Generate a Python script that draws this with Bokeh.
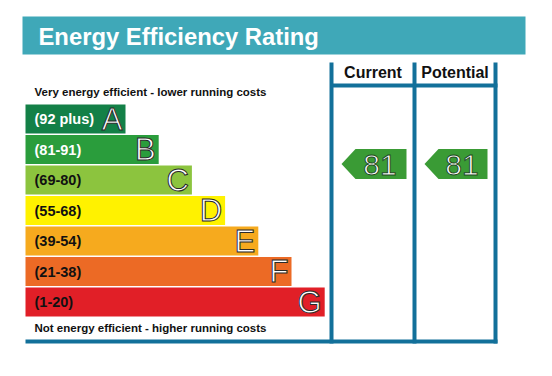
from bokeh.plotting import figure
from bokeh.models import Range1d, ColumnDataSource
from bokeh.core.properties import value
from bokeh.embed import file_html
from bokeh.resources import INLINE

# ---- data ----
bands = ["A", "B", "C", "D", "E", "F", "G"]
range_labels = ["(92 plus)", "(81-91)", "(69-80)", "(55-68)", "(39-54)", "(21-38)", "(1-20)"]
band_min = [92, 81, 69, 55, 39, 21, 1]
band_max = [100, 91, 80, 68, 54, 38, 20]
band_colors = ["#138047", "#2a9d3c", "#8cc43e", "#fff200", "#f6aa1e", "#ec6a25", "#e11f27"]
label_colors = ["white", "white", "#111111", "#111111", "#111111", "#111111", "#111111"]
title = "Energy Efficiency Rating"
top_note = "Very energy efficient - lower running costs"
bottom_note = "Not energy efficient - higher running costs"
columns = ["Current", "Potential"]
ratings = [81, 81]

# ---- layout (pixel space) ----
W, H = 552, 376
FONT = "Liberation Sans"
row_top0, row_pitch, row_h = 104.0, 30.5, 29.0
bar_left, bar_w0, bar_step = 25.0, 100.0, 33.2
col_lines = [331, 414, 495]

p = figure(width=W, height=H, x_range=Range1d(0, W), y_range=Range1d(H, 0),
           min_border=0, toolbar_location=None, output_backend="svg",
           x_axis_type=None, y_axis_type=None)
p.grid.visible = False
p.outline_line_color = None
p.background_fill_color = "white"
p.border_fill_color = "white"

# title banner
p.quad(left=[22], right=[525], top=[16], bottom=[54], fill_color="#3fa8b8", line_color=None)
p.text(x=[38], y=[36], text=[title], text_color="white", text_font=value(FONT),
       text_font_style="bold", text_font_size="23.8px", text_baseline="middle")

# bars
tops = [row_top0 + row_pitch * i for i in range(len(bands))]
bottoms = [t + row_h for t in tops]
rights = [bar_left + bar_w0 + bar_step * i for i in range(len(bands))]
mids = [(t + b) / 2 for t, b in zip(tops, bottoms)]
src = ColumnDataSource(dict(left=[bar_left] * len(bands), right=rights, top=tops, bottom=bottoms,
                            color=band_colors, mid=mids, rng=range_labels, lab=bands,
                            lcol=label_colors, lx=[34] * len(bands),
                            letx=[r - 3 for r in rights]))
p.quad(left="left", right="right", top="top", bottom="bottom", fill_color="color",
       line_color=None, source=src)
p.text(x="lx", y="mid", text="rng", text_color="lcol", text_font=value(FONT),
       text_font_style="bold", text_font_size="14.5px", text_baseline="middle", source=src)
p.text(x="letx", y="mid", text="lab", text_color="white", text_outline_color="#2a2a2a",
       text_font=value(FONT), text_font_size="31px", text_align="right",
       text_baseline="middle", source=src)

# notes
p.text(x=[34], y=[91], text=[top_note], text_color="#111111", text_font=value(FONT),
       text_font_style="bold", text_font_size="11.5px", text_baseline="middle")
p.text(x=[34], y=[327], text=[bottom_note], text_color="#111111", text_font=value(FONT),
       text_font_style="bold", text_font_size="11.5px", text_baseline="middle")

# column frame
line_col = "#12709a"
p.segment(x0=col_lines, x1=col_lines, y0=[62] * 3, y1=[343] * 3, line_color=line_col, line_width=4)
p.segment(x0=[col_lines[0]], x1=[col_lines[-1] + 2], y0=[85], y1=[85], line_color=line_col, line_width=4)
p.segment(x0=[25], x1=[col_lines[-1] + 2], y0=[341], y1=[341], line_color=line_col, line_width=4)

col_centers = [(col_lines[i] + col_lines[i + 1]) / 2 for i in range(2)]
p.text(x=col_centers, y=[72, 72], text=columns, text_color="#111111", text_font=value(FONT),
       text_font_style="bold", text_font_size="16px", text_align="center", text_baseline="middle")

# rating arrows
def rating_y(v):
    for i, (lo, hi) in enumerate(zip(band_min, band_max)):
        if lo <= v <= hi:
            return tops[i] + (hi - v + 1) / (hi - lo + 1) * row_h
    return tops[-1]

xs, ys, tx, ty = [], [], [], []
for i, v in enumerate(ratings):
    cy = rating_y(v)
    l = col_lines[i] + 10
    r = col_lines[i + 1] - 8
    half = 15
    xs.append([l, l + 14, r, r, l + 14])
    ys.append([cy, cy - half, cy - half, cy + half, cy + half])
    tx.append((l + 14 + r) / 2 - 1)
    ty.append(cy + 1)
p.patches(xs=xs, ys=ys, fill_color="#3a9b35", line_color=None)
p.text(x=tx, y=ty, text=[str(v) for v in ratings], text_color="white",
       text_outline_color="#1e4a1e", text_font=value(FONT), text_font_size="30px",
       text_align="center", text_baseline="middle")

open("out.html", "w").write(file_html(p, INLINE))
